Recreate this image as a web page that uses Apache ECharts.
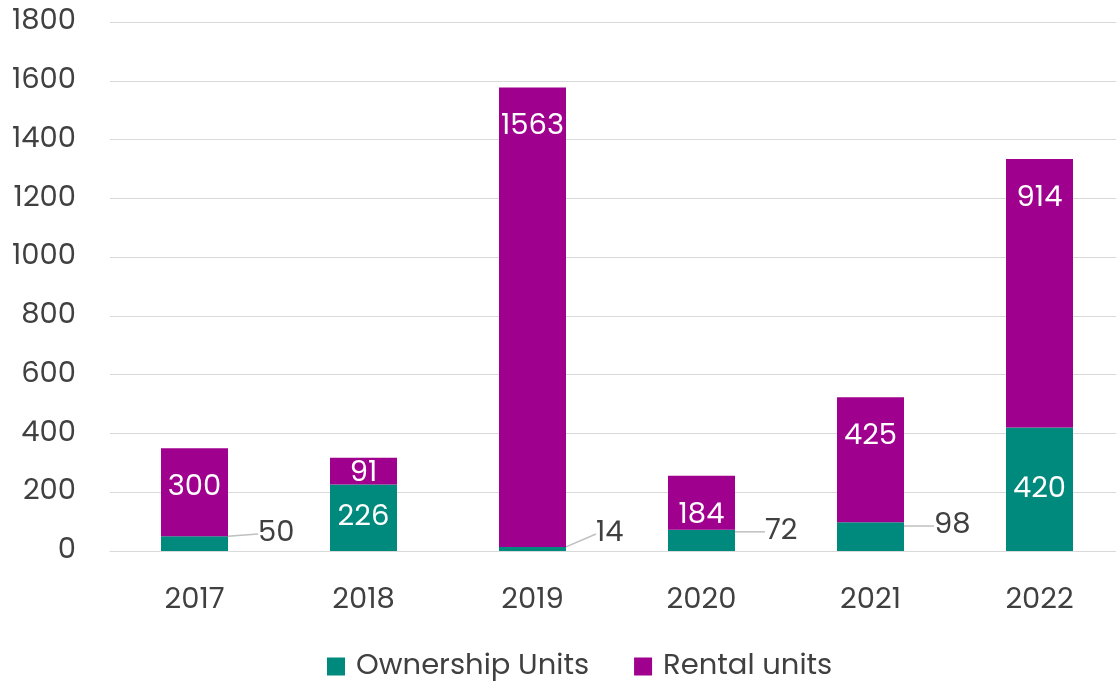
<!DOCTYPE html>
<html>
<head>
<meta charset="utf-8">
<script src="https://cdn.jsdelivr.net/npm/echarts@6/dist/echarts.min.js"></script>
<style>html,body{margin:0;padding:0;background:#fff;overflow:hidden}#c{width:1124px;height:683px}</style>
</head>
<body>
<div id="c"></div>
<script>
const categories = ['2017', '2018', '2019', '2020', '2021', '2022'];
const ownershipUnits = [50, 226, 14, 72, 98, 420];
const rentalUnits = [300, 91, 1563, 184, 425, 914];
const yTicks = { min: 0, max: 1800, interval: 200 };

const FONT = 'Poppins, Inter, "Open Sans", sans-serif';
const TEXT = '#404040';
const TEAL = '#00897D';
const PURPLE = '#A0008E';
const FS = 29;
const SMALL = 150;

const ownershipData = ownershipUnits.map(v => v < SMALL
  ? { value: v, label: { color: TEXT } }
  : v);

const chart = echarts.init(document.getElementById('c'), null, { renderer: 'canvas' });
chart.setOption({
  animation: false,
  textStyle: { fontFamily: FONT },
  grid: { left: 110, right: 0, top: 22, bottom: 132, containLabel: false },
  legend: {
    bottom: -3,
    left: 322,
    icon: 'rect',
    itemWidth: 18,
    itemHeight: 18,
    itemGap: 45,
    textStyle: { fontFamily: FONT, fontSize: FS, color: TEXT, padding: [0, 0, 0, 6] },
    data: ['Ownership Units', 'Rental units']
  },
  xAxis: {
    type: 'category',
    data: categories,
    axisLine: { show: true, lineStyle: { color: '#d9d9d9', width: 1 } },
    axisTick: { show: false },
    axisLabel: { fontSize: FS, color: TEXT, margin: 35, fontFamily: FONT }
  },
  yAxis: {
    type: 'value',
    min: yTicks.min, max: yTicks.max, interval: yTicks.interval,
    axisLine: { show: false },
    axisTick: { show: false },
    splitLine: { lineStyle: { color: '#d9d9d9', width: 1 } },
    axisLabel: { fontSize: FS, color: TEXT, margin: 34, fontFamily: FONT, formatter: v => String(v) }
  },
  series: [
    {
      name: 'Ownership Units',
      type: 'bar',
      stack: 'total',
      barWidth: 67,
      data: ownershipData,
      itemStyle: { color: TEAL },
      label: {
        show: true,
        position: 'inside',
        color: '#fff',
        fontSize: FS,
        fontFamily: FONT
      },
      labelLine: { show: true, lineStyle: { color: '#bfbfbf', width: 1.5 } },
      labelLayout: function (p) {
        if (Number(p.text) < SMALL) {
          return {
            x: p.rect.x + p.rect.width + 30,
            y: Math.min(Math.max(p.rect.y + 2, 526), 534),
            align: 'left',
            verticalAlign: 'middle'
          };
        }
        return {};
      }
    },
    {
      name: 'Rental units',
      type: 'bar',
      stack: 'total',
      barWidth: 67,
      data: rentalUnits,
      itemStyle: { color: PURPLE },
      label: {
        show: true,
        position: 'insideTop',
        distance: 25,
        color: '#fff',
        fontSize: FS,
        fontFamily: FONT
      },
      labelLayout: function (p) {
        if (p.rect.height < 40) {
          return {
            x: p.rect.x + p.rect.width / 2,
            y: p.rect.y + p.rect.height / 2 + 3,
            align: 'center',
            verticalAlign: 'middle'
          };
        }
        return {};
      }
    }
  ]
});
</script>
</body>
</html>
